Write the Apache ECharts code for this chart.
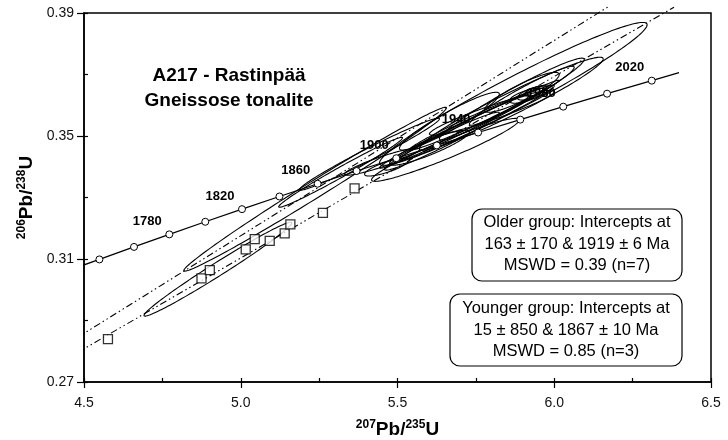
<!DOCTYPE html>
<html><head><meta charset="utf-8">
<script src="https://cdn.jsdelivr.net/npm/echarts/dist/echarts.min.js"></script>
<style>html,body{margin:0;padding:0;background:#fff}#c{width:728px;height:440px}</style>
</head><body><div id="c"></div>
<script>
// Concordia curve points (age in Ma, 207Pb/235U, 206Pb/238U)
const concAge = [1740,1760,1780,1800,1820,1840,1860,1880,1900,1920,1940,1960,1980,2000,2020];
const concX = [4.5491,4.6595,4.7721,4.8869,5.0040,5.1234,5.2453,5.3695,5.4962,5.6254,5.7572,5.8916,6.0287,6.1685,6.3111];
const concY = [0.30986,0.31393,0.31801,0.32210,0.32621,0.33033,0.33447,0.33861,0.34277,0.34694,0.35113,0.35533,0.35954,0.36376,0.36800];
const concStart = [4.481, 0.3074];
const concEnd = [6.398, 0.3706];
const labelAges = [1780,1820,1860,1900,1940,1980,2020];

// Discordia reference lines (end points)
const youngerLine = [[4.481, 0.2846], [6.175, 0.3922]];
const olderLine = [[4.481, 0.2797], [6.382, 0.3919]];

// Square symbols
const sqX = [4.5764,4.8748,4.9013,5.0159,5.0446,5.0924,5.1401,5.1583,5.2621,5.3631];
const sqY = [0.28397,0.30370,0.30639,0.31312,0.31647,0.31591,0.31832,0.32124,0.32501,0.33294];

// Error ellipses: centre, 2-sigma half-widths, correlation
const ellX   = [4.927,5.2373,5.3185,5.6529,5.8694,5.8631,5.8646,5.8965,5.9379,5.9411,5.9124,5.7532,5.6815,5.8965,5.4108,5.4666,5.6656,5.7532,5.7532,5.6417,5.8009,5.6019,5.4506];
const ellSX  = [0.2357,0.4188,0.1975,0.2357,0.4268,0.2930,0.2309,0.1672,0.0557,0.0366,0.0557,0.2468,0.2389,0.1194,0.2229,0.0717,0.1592,0.2627,0.2150,0.1831,0.1990,0.1274,0.1194];
const ellY   = [0.3067,0.3327,0.3382,0.3455,0.3637,0.3605,0.3620,0.3631,0.3641,0.3646,0.3631,0.3543,0.3514,0.3642,0.3441,0.3399,0.3548,0.35513,0.35546,0.34831,0.35757,0.3462,0.34165];
const ellSY  = [0.01527,0.02664,0.01137,0.01024,0.02323,0.01511,0.01332,0.00959,0.00244,0.00162,0.00244,0.01219,0.01186,0.0065,0.0117,0.00292,0.00942,0.0130,0.01007,0.00942,0.00731,0.00569,0.00439];
const ellRho = [0.9860,0.9925,0.9865,0.9506,0.9673,0.9642,0.9677,0.9623,0.69,0.65,0.69,0.9841,0.9883,0.8914,0.9823,0.80,0.9335,0.9938,0.9841,0.9728,0.9438,0.8995,0.919];

const titleLines = ['A217 - Rastinpää', 'Gneissose tonalite'];
const olderText = ['Older group: Intercepts at', '163 ± 170 & 1919 ± 6 Ma', 'MSWD = 0.39 (n=7)'];
const youngerText = ['Younger group: Intercepts at', '15 ± 850 & 1867 ± 10 Ma', 'MSWD = 0.85 (n=3)'];

const FONT = '"Liberation Sans", Arial, sans-serif';
const chart = echarts.init(document.getElementById('c'), null, {renderer: 'canvas'});

const concData = [{value: concStart, symbol: 'none'}]
  .concat(concAge.map((a, i) => ({value: [concX[i], concY[i], a]})))
  .concat([{value: concEnd, symbol: 'none'}]);

const ellData = ellX.map((x, i) => [x, ellSX[i], ellY[i], ellSY[i], ellRho[i]]);

const axisNameRich = {
  sup: {fontSize: 12, fontWeight: 'bold', fontFamily: FONT, color: '#000', verticalAlign: 'top', lineHeight: 12},
  main: {fontSize: 19, fontWeight: 'bold', fontFamily: FONT, color: '#000', lineHeight: 22}
};

const dash = [7, 3, 1.5, 3, 1.5, 3];

chart.setOption({
  animation: false,
  backgroundColor: '#fff',
  grid: {left: 84, right: 17, top: 13, bottom: 58, show: true, borderColor: '#000', borderWidth: 1.5,
         backgroundColor: 'transparent', containLabel: false, outerBoundsMode: 'none'},
  xAxis: [
    {type: 'value', min: 4.5, max: 6.5, interval: 0.5, position: 'bottom',
     axisLine: {show: true, onZero: false, lineStyle: {color: '#000', width: 1.5}},
     axisTick: {show: true, length: 6, lineStyle: {color: '#000', width: 1.2}},
     axisLabel: {formatter: v => v.toFixed(1), fontSize: 14, color: '#111', margin: 14, fontFamily: FONT},
     splitLine: {show: false},
     name: '{sup|207}{main|Pb/}{sup|235}{main|U}', nameLocation: 'middle', nameGap: 37,
     nameTextStyle: {rich: axisNameRich}},
    {type: 'value', min: 4.5, max: 6.5, interval: 0.25, position: 'bottom',
     axisLine: {show: false}, axisTick: {show: true, inside: true, length: 4, lineStyle: {color: '#000', width: 1.2}},
     axisLabel: {show: false}, splitLine: {show: false}}
  ],
  yAxis: [
    {type: 'value', min: 0.27, max: 0.39, interval: 0.04, position: 'left',
     axisLine: {show: true, onZero: false, lineStyle: {color: '#000', width: 1.5}},
     axisTick: {show: true, length: 7, lineStyle: {color: '#000', width: 1.2}},
     axisLabel: {formatter: v => v.toFixed(2), fontSize: 14, color: '#111', margin: 10, fontFamily: FONT},
     splitLine: {show: false},
     name: '{sup|206}{main|Pb/}{sup|238}{main|U}', nameLocation: 'middle', nameGap: 44, nameRotate: 90,
     nameTextStyle: {rich: axisNameRich}},
    {type: 'value', min: 0.27, max: 0.39, interval: 0.02, position: 'left',
     axisLine: {show: false}, axisTick: {show: true, inside: true, length: 4, lineStyle: {color: '#000', width: 1.2}},
     axisLabel: {show: false}, splitLine: {show: false}}
  ],
  series: [
    {type: 'custom', name: 'ellipses', xAxisIndex: 0, yAxisIndex: 0, z: 2,
     data: ellData, encode: {x: 0, y: 2},
     renderItem: function (params, api) {
       const cx = api.value(0), sx = api.value(1), cy = api.value(2), sy = api.value(3), r = api.value(4);
       const k = Math.sqrt(1 - r * r);
       const pts = [];
       for (let i = 0; i <= 160; i++) {
         const t = i / 160 * 2 * Math.PI;
         pts.push(api.coord([cx + sx * Math.cos(t), cy + sy * (r * Math.cos(t) + k * Math.sin(t))]));
       }
       return {type: 'polygon', shape: {points: pts}, style: {fill: 'none', stroke: '#000', lineWidth: 1.1}};
     }},
    {type: 'line', name: 'younger', data: youngerLine, symbol: 'none', clip: false, z: 3,
     lineStyle: {color: '#000', width: 1.1, type: dash}},
    {type: 'line', name: 'older', data: olderLine, symbol: 'none', clip: false, z: 3,
     lineStyle: {color: '#000', width: 1.1, type: dash}},
    {type: 'line', name: 'concordia', data: concData, clip: false, z: 4,
     symbol: 'circle', symbolSize: 7,
     itemStyle: {color: '#fff', borderColor: '#000', borderWidth: 1},
     lineStyle: {color: '#000', width: 1.2},
     label: {show: true, position: 'inside', offset: [-22, -13],
       formatter: p => (p.value.length > 2 && labelAges.indexOf(p.value[2]) >= 0) ? String(p.value[2]) : '',
       fontSize: 13, fontWeight: 'bold', color: '#000', fontFamily: FONT}},
    {type: 'scatter', name: 'squares', data: sqX.map((x, i) => [x, sqY[i]]), z: 5,
     symbol: 'rect', symbolSize: 9,
     itemStyle: {color: '#fff', borderColor: '#000', borderWidth: 1.3}}
  ],
  graphic: [
    {type: 'text', z: 10, style: {text: titleLines.join('\n'), x: 229, y: 88, align: 'center', verticalAlign: 'middle',
      font: 'bold 19px ' + FONT, lineHeight: 25, fill: '#000'}},
    {type: 'rect', z: 10, shape: {x: 472, y: 209, width: 210, height: 72, r: 10},
     style: {fill: '#fff', stroke: '#000', lineWidth: 1.2}},
    {type: 'text', z: 11, style: {text: olderText.join('\n'), x: 577, y: 244, align: 'center', verticalAlign: 'middle',
      font: '16.5px ' + FONT, lineHeight: 21.5, fill: '#000'}},
    {type: 'rect', z: 10, shape: {x: 450, y: 294, width: 232, height: 72, r: 10},
     style: {fill: '#fff', stroke: '#000', lineWidth: 1.2}},
    {type: 'text', z: 11, style: {text: youngerText.join('\n'), x: 566, y: 330, align: 'center', verticalAlign: 'middle',
      font: '16.5px ' + FONT, lineHeight: 21.5, fill: '#000'}}
  ]
});
</script></body></html>
